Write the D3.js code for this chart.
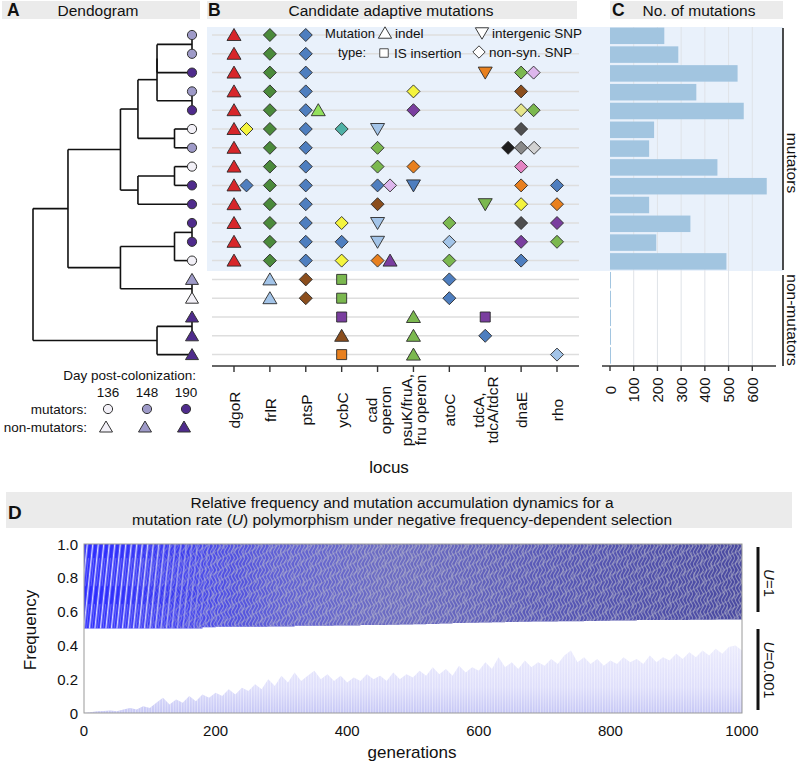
<!DOCTYPE html>
<html><head><meta charset="utf-8">
<script src="https://cdn.jsdelivr.net/npm/d3@7"></script>
<style>
body{margin:0;background:#fff}
text{font-family:"Liberation Sans",Arial,Helvetica,sans-serif;fill:#111}
</style>
</head><body>
<svg id="c" width="800" height="764"></svg>
<script>
// ---------------- DATA ----------------
const isolates = ["m1","m2","m3","m4","m5","m6","m7","m8","m9","m10","m11","m12","m13","n1","n2","n3","n4","n5"];
const isolateGroup = ["mut","mut","mut","mut","mut","mut","mut","mut","mut","mut","mut","mut","mut","non","non","non","non","non"];
const isolateDay = [148,148,190,148,190,136,148,136,190,190,190,190,136,148,136,190,190,190];
const days = [136,148,190];
const mutationCount = [229,288,538,364,564,186,165,453,661,165,339,195,491,4,4,4,4,4];
const countTicks = [0,100,200,300,400,500,600];

// dendrogram: h = relative distance, c = children (numbers are isolate indices)
const dendroTree = {h:1.0, c:[
  {h:0.78, c:[
    {h:0.45, c:[
      {h:0.34, c:[
        {h:0.22, c:[ {h:0.22, c:[ {h:0, c:[0,1]}, 2 ]}, {h:0, c:[3,4]} ]},
        {h:0.11, c:[5,6]} ]},
      {h:0.34, c:[ {h:0.11, c:[7,8]}, 9 ]} ]},
    {h:0.45, c:[ {h:0.11, c:[ {h:0, c:[10,11]}, 12 ]}, {h:0, c:[13,14]} ]} ]},
  {h:0.22, c:[ {h:0, c:[15,16]}, 17 ]} ]};

const loci = ["dgoR","frlR","ptsP","ycbC","cad operon","psuK/fruA, fru operon","atoC","tdcA, tdcA/tdcR","dnaE","rho"];
const locusLines = [["dgoR"],["frlR"],["ptsP"],["ycbC"],["cad","operon"],["psuK/fruA,","fru operon"],["atoC"],["tdcA,","tdcA/tdcR"],["dnaE"],["rho"]];
const mutationTypes = ["indel","IS insertion","intergenic SNP","non-syn. SNP"];

// [isolate row, locus index, mutation type, allele colour key]
const mutations = [];
for (let r = 0; r < 13; r++) { mutations.push([r,0,"indel","red"],[r,1,"non-syn. SNP","dkgreen"],[r,2,"non-syn. SNP","blue"]); }
const extraMutations = [
 [2,7,"intergenic SNP","orange"],[2,8,"non-syn. SNP","ltgreen"],[2,8,"non-syn. SNP","lavender"],
 [3,5,"non-syn. SNP","yellow"],[3,8,"non-syn. SNP","brown"],
 [4,2,"indel","brightgreen"],[4,5,"non-syn. SNP","purple"],[4,8,"non-syn. SNP","paleyellow"],[4,8,"non-syn. SNP","ltgreen"],
 [5,0,"non-syn. SNP","yellow"],[5,3,"non-syn. SNP","teal"],[5,4,"intergenic SNP","ltblue"],[5,8,"non-syn. SNP","dkgray"],
 [6,4,"non-syn. SNP","ltgreen"],[6,8,"non-syn. SNP","black"],[6,8,"non-syn. SNP","gray"],[6,8,"non-syn. SNP","ltgray"],
 [7,4,"non-syn. SNP","ltgreen"],[7,5,"non-syn. SNP","orange"],[7,8,"non-syn. SNP","pink"],
 [8,0,"non-syn. SNP","blue"],[8,4,"non-syn. SNP","blue"],[8,4,"non-syn. SNP","lavender"],[8,5,"intergenic SNP","blue"],[8,8,"non-syn. SNP","orange"],[8,9,"non-syn. SNP","blue"],
 [9,4,"non-syn. SNP","brown"],[9,7,"intergenic SNP","ltgreen"],[9,8,"non-syn. SNP","yellow"],[9,9,"non-syn. SNP","orange"],
 [10,3,"non-syn. SNP","yellow"],[10,4,"intergenic SNP","ltblue"],[10,6,"non-syn. SNP","ltgreen"],[10,8,"non-syn. SNP","dkgray"],[10,9,"non-syn. SNP","purple"],
 [11,3,"non-syn. SNP","blue"],[11,4,"intergenic SNP","ltblue"],[11,6,"non-syn. SNP","ltblue"],[11,8,"non-syn. SNP","purple"],[11,9,"non-syn. SNP","ltgreen"],
 [12,3,"non-syn. SNP","yellow"],[12,4,"non-syn. SNP","orange"],[12,4,"indel","purple"],[12,6,"non-syn. SNP","ltgreen"],[12,8,"non-syn. SNP","blue"],
 [13,1,"indel","ltblue"],[13,2,"non-syn. SNP","brown"],[13,3,"IS insertion","ltgreen"],[13,6,"non-syn. SNP","blue"],
 [14,1,"indel","ltblue"],[14,2,"non-syn. SNP","brown"],[14,3,"IS insertion","ltgreen"],[14,6,"non-syn. SNP","blue"],
 [15,3,"IS insertion","purple"],[15,5,"indel","ltgreen"],[15,7,"IS insertion","purple"],
 [16,3,"indel","brown"],[16,5,"indel","ltgreen"],[16,7,"non-syn. SNP","blue"],
 [17,3,"IS insertion","orange"],[17,5,"indel","ltgreen"],[17,9,"non-syn. SNP","ltblue"]
];
extraMutations.forEach(m => mutations.push(m));

// panel D
const genTicks = [0,200,400,600,800,1000];
const freqTicks = [0,0.2,0.4,0.6,0.8,1.0];
const freqTickLabels = ["0","0.2","0.4","0.6","0.8","1.0"];
const gens20 = [0,20,40,60,80,100,120,140,160,180,200,220,240,260,280,300,320,340,360,380,400,420,440,460,480,500,520,540,560,580,600,620,640,660,680,700,720,740,760,780,800,820,840,860,880,900,920,940,960,980,1000];
const highULower = [0.5,0.5,0.5,0.5,0.5,0.5,0.5,0.5,0.5,0.508,0.51,0.51,0.511,0.51,0.512,0.512,0.516,0.516,0.517,0.518,0.518,0.52,0.52,0.522,0.524,0.525,0.527,0.53,0.532,0.534,0.535,0.537,0.538,0.54,0.541,0.542,0.543,0.543,0.545,0.546,0.547,0.548,0.55,0.55,0.551,0.551,0.552,0.552,0.553,0.553,0.554];
const gens10 = [0,10,20,30,40,50,60,70,80,90,100,110,120,130,140,150,160,170,180,190,200,210,220,230,240,250,260,270,280,290,300,310,320,330,340,350,360,370,380,390,400,410,420,430,440,450,460,470,480,490,500,510,520,530,540,550,560,570,580,590,600,610,620,630,640,650,660,670,680,690,700,710,720,730,740,750,760,770,780,790,800,810,820,830,840,850,860,870,880,890,900,910,920,930,940,950,960,970,980,990,1000];
const lowUUpper = [0,0.005,0.01,0.012,0.015,0.01,0.02,0.03,0.02,0.04,0.03,0.06,0.09,0.05,0.08,0.06,0.1,0.07,0.11,0.09,0.12,0.1,0.14,0.11,0.15,0.13,0.17,0.14,0.2,0.16,0.22,0.18,0.24,0.19,0.22,0.25,0.2,0.23,0.19,0.22,0.18,0.21,0.19,0.23,0.2,0.22,0.19,0.24,0.2,0.23,0.21,0.25,0.22,0.27,0.23,0.26,0.22,0.28,0.24,0.27,0.25,0.3,0.26,0.33,0.27,0.3,0.26,0.31,0.27,0.3,0.28,0.32,0.29,0.34,0.37,0.3,0.33,0.29,0.32,0.28,0.31,0.29,0.33,0.3,0.32,0.29,0.34,0.3,0.33,0.31,0.35,0.32,0.36,0.33,0.37,0.34,0.38,0.35,0.39,0.4,0.37];

// ---------------- STYLE ----------------
const palette = {red:"#d7262a",dkgreen:"#4b8a3b",blue:"#4e7ebf",ltgreen:"#7bb84f",brightgreen:"#93e05c",
  yellow:"#f4f43e",paleyellow:"#e6e68c",teal:"#4fb1a6",ltblue:"#a3c4e8",orange:"#e8801f",brown:"#8b4e1d",
  purple:"#7a3e9f",lavender:"#ddb6ec",pink:"#e384c3",dkgray:"#4f4f4f",black:"#1d1d1d",gray:"#8a8a8a",ltgray:"#d2d2d2"};
const dayColor = d3.scaleOrdinal(days, ["#f2f0f7","#9e9ac8","#4f2b8c"]);
const shapePath = {
  "indel":"M0,-6.5L7,5.5L-7,5.5Z",
  "intergenic SNP":"M0,6.5L7,-5.5L-7,-5.5Z",
  "non-syn. SNP":"M0,-6.5L6.5,0L0,6.5L-6.5,0Z",
  "IS insertion":"M-5,-5H5V5H-5Z"
};

const svg = d3.select("#c");
const rowY = d3.scalePoint().domain(d3.range(isolates.length)).range([35, 354.6]);
const colX = d3.scalePoint().domain(loci).range([234, 557]);
const xC = d3.scaleLinear().domain([0, 700]).range([610, 776]);

// headers
const headers = [
  {x:2,w:198,letter:"A",lx:7,title:"Dendogram",tx:98},
  {x:207,w:370,letter:"B",lx:208,title:"Candidate adaptive mutations",tx:391},
  {x:610,w:173,letter:"C",lx:612,title:"No. of mutations",tx:699}
];
headers.forEach(h => {
  svg.append("rect").attr("x",h.x).attr("y",1).attr("width",h.w).attr("height",18).attr("fill","#ebebeb");
  svg.append("text").attr("x",h.lx).attr("y",16).attr("font-size",17.5).attr("font-weight","bold").text(h.letter);
  svg.append("text").attr("x",h.tx).attr("y",15.5).attr("font-size",15.5).attr("text-anchor","middle").text(h.title);
});

// mutator background
svg.append("rect").attr("x",207).attr("y",27).attr("width",576).attr("height",244).attr("fill","#e9f1fb");

// ---------- Panel A ----------
const hx = d3.scaleLinear().domain([0,1]).range([192,33]);
const root = d3.hierarchy(dendroTree, d => d.c ? d.c.map(k => typeof k === "number" ? {leaf:k} : k) : null);
root.eachAfter(n => {
  if (n.data.leaf !== undefined) { n.px = hx(0); n.py = rowY(n.data.leaf); }
  else { n.px = hx(n.data.h); n.py = (n.children[0].py + n.children[n.children.length-1].py) / 2; }
});
const gA = svg.append("g").attr("stroke","#111").attr("stroke-width",1.6).attr("fill","none");
root.each(n => {
  if (!n.children) return;
  gA.append("line").attr("x1",n.px).attr("x2",n.px).attr("y1",n.children[0].py).attr("y2",n.children[n.children.length-1].py);
  n.children.forEach(c => gA.append("line").attr("x1",n.px).attr("x2",c.px).attr("y1",c.py).attr("y2",c.py));
});
const leafTri = "M0,-6L6.5,5L-6.5,5Z";
root.leaves().forEach(l => {
  const i = l.data.leaf;
  if (isolateGroup[i] === "mut") {
    svg.append("circle").attr("cx",l.px).attr("cy",l.py).attr("r",4.6).attr("fill",dayColor(isolateDay[i])).attr("stroke","#333").attr("stroke-width",1);
  } else {
    svg.append("path").attr("d",leafTri).attr("transform",`translate(${l.px},${l.py})`).attr("fill",dayColor(isolateDay[i])).attr("stroke","#333").attr("stroke-width",1);
  }
});
// legend A
const legX = d3.scalePoint().domain(days).range([108,186]);
svg.append("text").attr("x",196).attr("y",380).attr("text-anchor","end").attr("font-size",13.5).text("Day post-colonization:");
days.forEach(d => {
  svg.append("text").attr("x",legX(d)).attr("y",397).attr("text-anchor","middle").attr("font-size",13.5).text(d);
  svg.append("circle").attr("cx",legX(d)).attr("cy",409).attr("r",4.6).attr("fill",dayColor(d)).attr("stroke","#333");
  svg.append("path").attr("d",leafTri).attr("transform",`translate(${legX(d)-2},${427})`).attr("fill",dayColor(d)).attr("stroke","#333");
});
svg.append("text").attr("x",87).attr("y",413.5).attr("text-anchor","end").attr("font-size",13.5).text("mutators:");
svg.append("text").attr("x",87).attr("y",431.5).attr("text-anchor","end").attr("font-size",13.5).text("non-mutators:");

// ---------- Panel B ----------
const gridB = svg.append("g");
isolates.forEach((_, i) => gridB.append("line").attr("x1",212).attr("x2",579).attr("y1",rowY(i)).attr("y2",rowY(i)).attr("stroke","#dedede").attr("stroke-width",1.5));
const mObjs = mutations.map(m => ({row:m[0], locus:loci[m[1]], type:m[2], allele:m[3]}));
const cells = d3.group(mObjs, d => d.row + "|" + d.locus);
cells.forEach(arr => arr.forEach((m, i) => { m.off = arr.length === 3 ? (i - 1) * 13 : i * 12.5; }));
svg.append("g").selectAll("path").data(mObjs).join("path")
  .attr("d", d => shapePath[d.type])
  .attr("transform", d => `translate(${colX(d.locus) + d.off},${rowY(d.row)})`)
  .attr("fill", d => palette[d.allele]).attr("stroke","#2a2a2a").attr("stroke-width",0.9);
// B axis
svg.append("line").attr("x1",212).attr("x2",579).attr("y1",366).attr("y2",366).attr("stroke","#333").attr("stroke-width",1.6);
loci.forEach((l, i) => {
  const x = colX(l);
  svg.append("line").attr("x1",x).attr("x2",x).attr("y1",366).attr("y2",372).attr("stroke","#333").attr("stroke-width",1.4);
  const lines = locusLines[i];
  lines.forEach((t, j) => {
    const bx = lines.length === 1 ? x + 6 : x - 1 + j * 14;
    svg.append("text").attr("transform",`translate(${bx},410) rotate(-90)`).attr("text-anchor","middle").attr("font-size",15.5).text(t);
  });
});
svg.append("text").attr("x",389).attr("y",473).attr("text-anchor","middle").attr("font-size",17).text("locus");
// B legend
svg.append("text").attr("x",350).attr("y",38).attr("text-anchor","middle").attr("font-size",13).text("Mutation");
svg.append("text").attr("x",352).attr("y",57).attr("text-anchor","middle").attr("font-size",13).text("type:");
const legB = [
  {type:"indel",x:385,y:33,label:"indel"},
  {type:"IS insertion",x:384,y:53,label:"IS insertion"},
  {type:"intergenic SNP",x:482,y:33,label:"intergenic SNP"},
  {type:"non-syn. SNP",x:479,y:52,label:"non-syn. SNP"}
];
legB.forEach(l => {
  svg.append("path").attr("d",shapePath[l.type]).attr("transform",`translate(${l.x},${l.y}) scale(${l.type==="IS insertion"?0.85:0.95})`).attr("fill","#fff").attr("stroke","#333").attr("stroke-width",1);
  svg.append("text").attr("x",l.x+10).attr("y",l.y+5).attr("font-size",13.5).text(l.label);
});

// ---------- Panel C ----------
countTicks.slice(1).forEach(t => svg.append("line").attr("x1",xC(t)).attr("x2",xC(t)).attr("y1",27).attr("y2",366).attr("stroke","#dfe3e8").attr("stroke-width",1));
const barH = 16.5;
svg.append("g").selectAll("rect").data(mutationCount).join("rect")
  .attr("x", xC(0)).attr("y", (d,i) => rowY(i) - barH/2 + 0.8)
  .attr("width", d => Math.max(1, xC(d) - xC(0))).attr("height", barH).attr("fill","#a2c5e0");
svg.append("line").attr("x1",602).attr("x2",776).attr("y1",366).attr("y2",366).attr("stroke","#333").attr("stroke-width",1.6);
countTicks.forEach(t => {
  svg.append("line").attr("x1",xC(t)).attr("x2",xC(t)).attr("y1",366).attr("y2",371).attr("stroke","#333").attr("stroke-width",1.4);
  svg.append("text").attr("transform",`translate(${xC(t)+5.5},390) rotate(-90)`).attr("text-anchor","middle").attr("font-size",15).text(t);
});
// brackets
svg.append("line").attr("x1",783).attr("x2",783).attr("y1",28).attr("y2",270).attr("stroke","#111").attr("stroke-width",1.5);
svg.append("line").attr("x1",783).attr("x2",783).attr("y1",275).attr("y2",366).attr("stroke","#111").attr("stroke-width",1.5);
svg.append("text").attr("transform","translate(787,163) rotate(90)").attr("text-anchor","middle").attr("font-size",15.5).text("mutators");
svg.append("text").attr("transform","translate(787,320) rotate(90)").attr("text-anchor","middle").attr("font-size",15.5).text("non-mutators");

// ---------- Panel D ----------
svg.append("rect").attr("x",6).attr("y",492).attr("width",786).attr("height",36).attr("fill","#ebebeb");
svg.append("text").attr("x",8).attr("y",519).attr("font-size",19).attr("font-weight","bold").text("D");
svg.append("text").attr("x",402).attr("y",508).attr("text-anchor","middle").attr("font-size",15.5).text("Relative frequency and mutation accumulation dynamics for a");
const t2 = svg.append("text").attr("x",402).attr("y",525).attr("text-anchor","middle").attr("font-size",15.5);
t2.append("tspan").text("mutation rate (");
t2.append("tspan").attr("font-style","italic").text("U");
t2.append("tspan").text(") polymorphism under negative frequency-dependent selection");

const xD = d3.scaleLinear().domain([0,1000]).range([84,742]);
const yD = d3.scaleLinear().domain([0,1]).range([713,544]);
const defs = svg.append("defs");
const gTop = defs.append("linearGradient").attr("id","gTop").attr("gradientUnits","userSpaceOnUse").attr("x1",84).attr("x2",742).attr("y1",0).attr("y2",0);
[[0,"#2c2cff"],[0.12,"#3434f6"],[0.28,"#4d4dde"],[0.45,"#5a5ac6"],[0.7,"#4e4eb6"],[1,"#42429e"]].forEach(s => gTop.append("stop").attr("offset",s[0]).attr("stop-color",s[1]));
const pE = defs.append("pattern").attr("id","pEarly").attr("patternUnits","userSpaceOnUse").attr("width",5.5).attr("height",46).attr("patternTransform","skewX(-6)");
pE.append("path").attr("d","M1.5,0V46").attr("stroke","#ffffff").attr("stroke-opacity",0.8).attr("stroke-width",1.5);
pE.append("path").attr("d","M4,6V34").attr("stroke","#b8b8ee").attr("stroke-opacity",0.6).attr("stroke-width",0.8);
const pL = defs.append("pattern").attr("id","pLate").attr("patternUnits","userSpaceOnUse").attr("width",7).attr("height",12);
pL.append("path").attr("d","M0,0L3.5,6L0,12M3.5,0L7,6L3.5,12").attr("fill","none").attr("stroke","#c6c6d2").attr("stroke-opacity",0.55).attr("stroke-width",1.1);
const pL2 = defs.append("pattern").attr("id","pLate2").attr("patternUnits","userSpaceOnUse").attr("width",11).attr("height",17).attr("patternTransform","rotate(25)");
pL2.append("path").attr("d","M0,17L5,8L11,0M2,4L6,12").attr("fill","none").attr("stroke","#b4b4c8").attr("stroke-opacity",0.45).attr("stroke-width",1.3);
const gGray = defs.append("linearGradient").attr("id","gGray").attr("gradientUnits","userSpaceOnUse").attr("x1",84).attr("x2",742).attr("y1",0).attr("y2",0);
[[0,0],[0.15,0.05],[0.3,0.22],[0.5,0.25],[0.7,0.12],[1,0.08]].forEach(s => gGray.append("stop").attr("offset",s[0]).attr("stop-color","#a8a8bc").attr("stop-opacity",s[1]));
const fo = defs.append("linearGradient").attr("id","fadeOut").attr("gradientUnits","userSpaceOnUse").attr("x1",xD(90)).attr("x2",xD(230)).attr("y1",0).attr("y2",0);
fo.append("stop").attr("offset",0).attr("stop-color","#fff"); fo.append("stop").attr("offset",1).attr("stop-color","#000");
const fi = defs.append("linearGradient").attr("id","fadeIn").attr("gradientUnits","userSpaceOnUse").attr("x1",xD(60)).attr("x2",xD(200)).attr("y1",0).attr("y2",0);
fi.append("stop").attr("offset",0).attr("stop-color","#000"); fi.append("stop").attr("offset",1).attr("stop-color","#fff");
defs.append("mask").attr("id","mEarly").append("rect").attr("x",0).attr("y",0).attr("width",800).attr("height",764).attr("fill","url(#fadeOut)");
defs.append("mask").attr("id","mLate").append("rect").attr("x",0).attr("y",0).attr("width",800).attr("height",764).attr("fill","url(#fadeIn)");
const gLow = defs.append("linearGradient").attr("id","gLow").attr("gradientUnits","userSpaceOnUse").attr("x1",0).attr("x2",0).attr("y1",713).attr("y2",640);
[[0,"#c6c7f5"],[0.35,"#dfdffb"],[1,"#ededfd"]].forEach(s => gLow.append("stop").attr("offset",s[0]).attr("stop-color",s[1]));
const pS = defs.append("pattern").attr("id","pSpike").attr("patternUnits","userSpaceOnUse").attr("width",2.7).attr("height",20);
pS.append("rect").attr("x",0).attr("y",0).attr("width",0.9).attr("height",20).attr("fill","#ffffff").attr("fill-opacity",0.45);

const topData = gens20.map((g,i) => ({g, lo:highULower[i]}));
const topArea = d3.area().x(d => xD(d.g)).y0(d => yD(d.lo)).y1(yD(1)).curve(d3.curveStepAfter);
defs.append("clipPath").attr("id","clipTop").append("path").attr("d", topArea(topData));
const lowData = gens10.map((g,i) => ({g, hi:lowUUpper[i]}));
const lowArea = d3.area().x(d => xD(d.g)).y0(yD(0)).y1(d => yD(d.hi)).curve(d3.curveLinear);
defs.append("clipPath").attr("id","clipLow").append("path").attr("d", lowArea(lowData));

svg.append("path").attr("d", topArea(topData)).attr("fill","url(#gTop)");
svg.append("rect").attr("x",84).attr("y",544).attr("width",658).attr("height",90).attr("fill","url(#gGray)").attr("clip-path","url(#clipTop)");
svg.append("rect").attr("x",84).attr("y",544).attr("width",658).attr("height",90).attr("fill","url(#pEarly)").attr("clip-path","url(#clipTop)").attr("mask","url(#mEarly)");
svg.append("rect").attr("x",84).attr("y",544).attr("width",658).attr("height",90).attr("fill","url(#pLate)").attr("clip-path","url(#clipTop)").attr("mask","url(#mLate)");
svg.append("rect").attr("x",84).attr("y",544).attr("width",658).attr("height",90).attr("fill","url(#pLate2)").attr("clip-path","url(#clipTop)").attr("mask","url(#mLate)");
svg.append("path").attr("d", lowArea(lowData)).attr("fill","url(#gLow)");
svg.append("rect").attr("x",84).attr("y",600).attr("width",658).attr("height",113).attr("fill","url(#pSpike)").attr("clip-path","url(#clipLow)");

// frame
svg.append("rect").attr("x",84).attr("y",544).attr("width",658).attr("height",169).attr("fill","none").attr("stroke","#9a9a9a").attr("stroke-width",1);
freqTicks.forEach((t,i) => svg.append("text").attr("x",78).attr("y",yD(t)+5.5).attr("text-anchor","end").attr("font-size",15).text(freqTickLabels[i]));
genTicks.forEach(t => svg.append("text").attr("x",xD(t)).attr("y",736).attr("text-anchor","middle").attr("font-size",15).text(t));
svg.append("text").attr("x",412).attr("y",758).attr("text-anchor","middle").attr("font-size",17).text("generations");
svg.append("text").attr("transform","translate(36,630) rotate(-90)").attr("text-anchor","middle").attr("font-size",17).text("Frequency");
// U brackets
svg.append("line").attr("x1",758).attr("x2",758).attr("y1",547).attr("y2",612).attr("stroke","#111").attr("stroke-width",3);
svg.append("line").attr("x1",758).attr("x2",758).attr("y1",629).attr("y2",710).attr("stroke","#111").attr("stroke-width",3);
const u1 = svg.append("text").attr("transform","translate(764,583) rotate(90)").attr("text-anchor","middle").attr("font-size",15);
u1.append("tspan").attr("font-style","italic").text("U"); u1.append("tspan").text("=1");
const u2 = svg.append("text").attr("transform","translate(764,670) rotate(90)").attr("text-anchor","middle").attr("font-size",15);
u2.append("tspan").attr("font-style","italic").text("U"); u2.append("tspan").text("=0.001");
</script>
</body></html>
